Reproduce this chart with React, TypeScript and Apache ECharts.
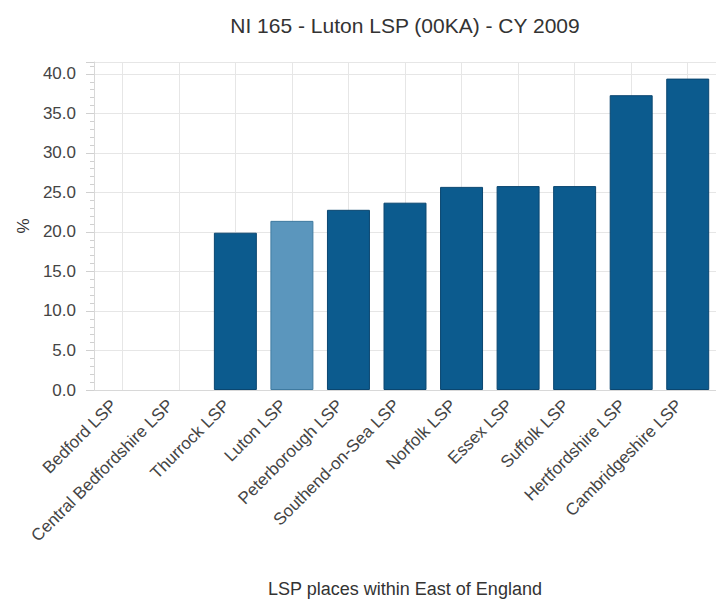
import React, { useEffect, useRef } from "react";
import * as echarts from "echarts";

const categories = [
  "Bedford LSP",
  "Central Bedfordshire LSP",
  "Thurrock LSP",
  "Luton LSP",
  "Peterborough LSP",
  "Southend-on-Sea LSP",
  "Norfolk LSP",
  "Essex LSP",
  "Suffolk LSP",
  "Hertfordshire LSP",
  "Cambridgeshire LSP",
];
const values: (number | null)[] = [null, null, 19.9, 21.4, 22.8, 23.7, 25.7, 25.8, 25.8, 37.3, 39.4];
const highlight = "Luton LSP";
const titleText = "NI 165 - Luton LSP (00KA) - CY 2009";
const xName = "LSP places within East of England";
const yName = "%";

export default function App() {
  const ref = useRef<HTMLDivElement>(null);
  useEffect(() => {
    const chart = echarts.init(ref.current!, null, { renderer: "svg" });
    const font = "'Liberation Sans', Arial, sans-serif";
    chart.setOption({
      animation: false,
      title: {
        text: titleText,
        left: 400,
        top: 10,
        textAlign: "center",
        textStyle: { fontFamily: font, fontSize: 21, fontWeight: "normal", color: "#333" },
      },
      grid: { left: 94, right: -5, top: 62, bottom: 205, containLabel: false },
      xAxis: {
        type: "category",
        data: categories,
        name: xName,
        nameLocation: "middle",
        nameGap: 190,
        nameTextStyle: { fontFamily: font, fontSize: 18, color: "#333" },
        axisLine: { show: true, lineStyle: { color: "#d8d8d8" } },
        axisTick: { show: false },
        axisLabel: {
          rotate: 45,
          interval: 0,
          margin: 4,
          padding: [0, 12, 0, 0],
          fontFamily: font,
          fontSize: 17,
          color: "#444",
        },
        splitLine: { show: true, alignWithLabel: true, lineStyle: { color: "#e6e6e6" } },
      },
      yAxis: {
        type: "value",
        min: 0,
        max: 41.5,
        interval: 5,
        name: yName,
        nameLocation: "middle",
        nameGap: 62,
        nameTextStyle: { fontFamily: font, fontSize: 17, color: "#333" },
        axisLine: { show: true, lineStyle: { color: "#d8d8d8" } },
        axisTick: { show: true, length: 8, lineStyle: { color: "#d0d0d0" } },
        minorTick: { show: true, splitNumber: 5, length: 4, lineStyle: { color: "#d0d0d0" } },
        axisLabel: {
          showMaxLabel: false,
          formatter: (v: number) => v.toFixed(1),
          fontFamily: font,
          fontSize: 17,
          color: "#444",
          margin: 18,
        },
        splitLine: { show: true, lineStyle: { color: "#e6e6e6" } },
      },
      series: [
        {
          type: "bar",
          barWidth: "76%",
          data: values.map((v, i) => ({
            value: v,
            itemStyle: {
              color: categories[i] === highlight ? "#5b96bd" : "#0c5b8e",
              borderColor: categories[i] === highlight ? "#3f7aa0" : "#0a4670",
              borderWidth: 1,
            },
          })),
        },
      ],
    });
    return () => chart.dispose();
  }, []);
  return (
    <div
      ref={ref}
      style={{ position: "fixed", left: 0, top: 0, width: 716, height: 603, background: "#fff" }}
    />
  );
}
